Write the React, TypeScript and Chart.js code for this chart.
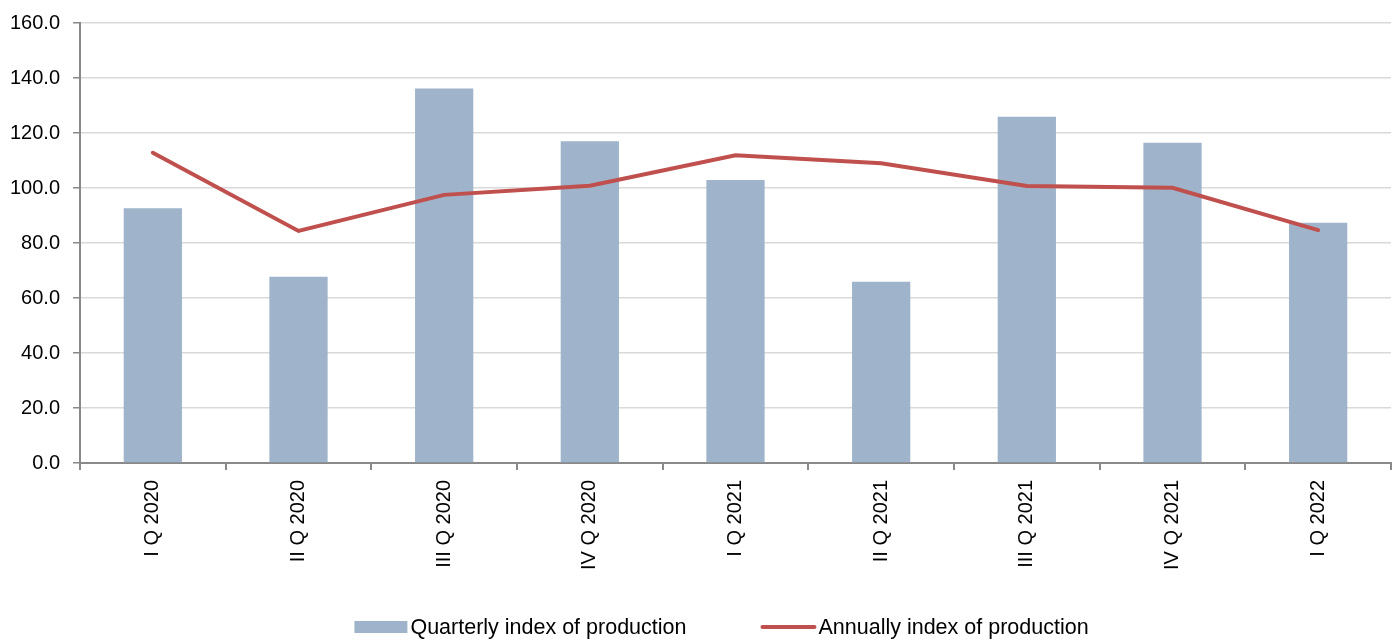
import React, { useEffect, useRef } from "react";
import { Chart, registerables } from "chart.js";

Chart.register(...registerables);

const categories = [
  "I Q 2020",
  "II Q 2020",
  "III Q 2020",
  "IV Q 2020",
  "I Q 2021",
  "II Q 2021",
  "III Q 2021",
  "IV Q 2021",
  "I Q 2022",
];
const quarterlyIndex = [92.6, 67.7, 136.2, 117.0, 102.9, 65.9, 125.9, 116.5, 87.4];
const annualIndex = [112.8, 84.4, 97.5, 100.8, 111.9, 109.0, 100.7, 100.1, 84.7];
const seriesNames = ["Quarterly index of production", "Annually index of production"];
const yMin = 0;
const yMax = 160;
const yStep = 20;

const BAR_COLOR = "#9FB4CB";
const LINE_COLOR = "#C0504D";
const AXIS_COLOR = "#898989";
const GRID_COLOR = "#D9D9D9";
const FONT = "'Liberation Sans', Arial, sans-serif";
const TICK_SIZE = 20;
const LEGEND_SIZE = 21.5;

const bottomLegend = {
  id: "bottomLegend",
  afterDraw(chart: any) {
    const ctx = chart.ctx as CanvasRenderingContext2D;
    const area = chart.chartArea;
    ctx.save();
    ctx.font = `${LEGEND_SIZE}px ${FONT}`;
    ctx.textBaseline = "middle";
    ctx.textAlign = "left";
    const w0 = ctx.measureText(seriesNames[0]).width;
    const w1 = ctx.measureText(seriesNames[1]).width;
    const boxW = 53;
    const lineW = 56;
    const gapBox = 3;
    const gapLine = 2;
    const between = 74;
    const total = boxW + gapBox + w0 + between + lineW + gapLine + w1;
    const center = (area.left + area.right) / 2 - 14;
    let x = center - total / 2;
    const y = chart.height - 12;
    ctx.fillStyle = BAR_COLOR;
    ctx.fillRect(x, y - 6, boxW, 12);
    x += boxW + gapBox;
    ctx.fillStyle = "#000";
    ctx.fillText(seriesNames[0], x, y + 1);
    x += w0 + between;
    ctx.strokeStyle = LINE_COLOR;
    ctx.lineWidth = 4;
    ctx.lineCap = "round";
    ctx.beginPath();
    ctx.moveTo(x + 2, y);
    ctx.lineTo(x + lineW - 2, y);
    ctx.stroke();
    x += lineW + gapLine;
    ctx.fillStyle = "#000";
    ctx.fillText(seriesNames[1], x, y + 1);
    ctx.restore();
  },
};

export default function App() {
  const canvasRef = useRef<HTMLCanvasElement | null>(null);

  useEffect(() => {
    const canvas = canvasRef.current;
    if (!canvas) return;
    const chart = new Chart(canvas, {
      type: "bar",
      data: {
        labels: categories,
        datasets: [
          {
            type: "line",
            label: seriesNames[1],
            data: annualIndex,
            borderColor: LINE_COLOR,
            backgroundColor: LINE_COLOR,
            borderWidth: 4,
            pointRadius: 0,
            tension: 0,
            borderCapStyle: "round",
            order: 0,
          } as any,
          {
            type: "bar",
            label: seriesNames[0],
            data: quarterlyIndex,
            backgroundColor: BAR_COLOR,
            borderWidth: 0,
            barPercentage: 0.4,
            categoryPercentage: 1,
            order: 1,
          } as any,
        ],
      },
      options: {
        animation: false,
        responsive: false,
        maintainAspectRatio: false,
        layout: { padding: { top: 23, right: 8, bottom: 45, left: 0 } },
        plugins: {
          tooltip: { enabled: false },
          legend: { display: false },
        },
        scales: {
          x: {
            offset: true,
            grid: {
              offset: true,
              drawOnChartArea: false,
              drawTicks: true,
              tickLength: 7,
              tickColor: AXIS_COLOR,
              lineWidth: 2,
            },
            border: { display: true, color: AXIS_COLOR, width: 2 },
            ticks: {
              minRotation: 90,
              maxRotation: 90,
              autoSkip: false,
              padding: 10,
              color: "#000",
              font: { family: FONT, size: TICK_SIZE, lineHeight: 1 },
            },
            afterFit: (scale: any) => {
              scale.height = 131;
            },
          },
          y: {
            min: yMin,
            max: yMax,
            grid: {
              color: (ctx: any) => (ctx.tick && ctx.tick.value === 0 ? "rgba(0,0,0,0)" : GRID_COLOR),
              lineWidth: 1.5,
              tickLength: 7,
              tickColor: AXIS_COLOR,
            },
            border: { display: true, color: AXIS_COLOR, width: 2 },
            ticks: {
              stepSize: yStep,
              padding: 13,
              color: "#000",
              font: { family: FONT, size: TICK_SIZE, lineHeight: 1 },
              callback: (v: any) => Number(v).toFixed(1),
            },
            afterFit: (scale: any) => {
              scale.width = 80;
            },
          },
        },
      },
      plugins: [bottomLegend],
    });
    return () => chart.destroy();
  }, []);

  return (
    <div style={{ position: "absolute", left: 0, top: 0, width: 1399, height: 639, background: "#fff" }}>
      <canvas ref={canvasRef} width={1399} height={639} style={{ width: 1399, height: 639 }} />
    </div>
  );
}
